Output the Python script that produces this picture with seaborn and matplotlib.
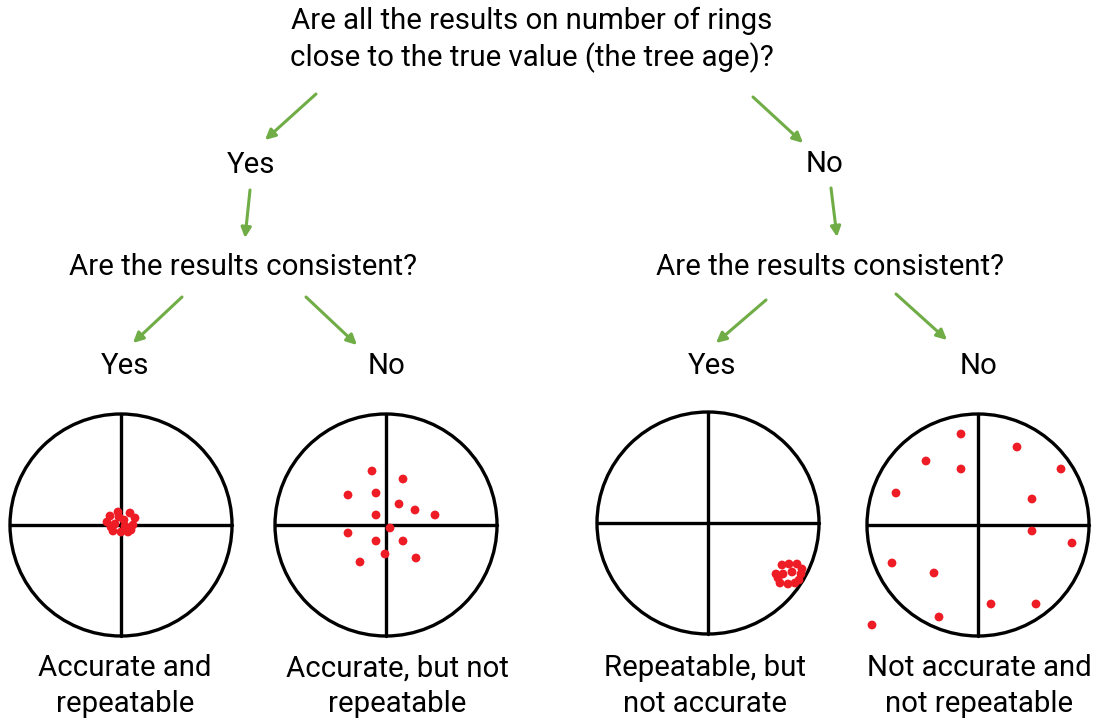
"""
Decision tree: accuracy vs. repeatability of tree-ring counts,
drawn as four targets with red hits.
"""

import matplotlib.pyplot as plt
import matplotlib.patches as mpatches
import pandas as pd
import seaborn as sns

#####################################
## Data
#####################################

question_top = "Are all the results on number of rings\nclose to the true value (the tree age)?"
question_consistent = "Are the results consistent?"
answers = ["Yes", "No"]
target_labels = [
    "Accurate and\nrepeatable",
    "Accurate, but not\nrepeatable",
    "Repeatable, but\nnot accurate",
    "Not accurate and\nnot repeatable",
]

# hit offsets from each target centre (pixels, y grows downwards)
hits_x_1 = [-11, -3, 9, 14, -14, -6, 4, 12, -8, 0, 7, -2, 10, -10, 3]
hits_y_1 = [-9, -13, -12, -7, -3, -1, 1, 0, 6, 7, 7, -8, 5, 2, -5]

hits_x_2 = [-14, 17, -38, -10, 13, 29, 49, -10, 4, -38, -10, 17, -1, 30, -26]
hits_y_2 = [-54, -46, -30, -32, -21, -15, -10, -10, 3, 8, 16, 16, 29, 33, 37]

hits_x_3 = [74, 81, 89, 94, 68, 75, 84, 93, 72, 80, 87, 70, 91]
hits_y_3 = [42, 41, 41, 46, 51, 51, 49, 51, 60, 61, 60, 55, 57]

hits_x_4 = [-17, 39, -52, -17, 83, -82, 54, 54, 94, -86, -44, 13, 58, -39, -106]
hits_y_4 = [-91, -78, -64, -56, -56, -32, -26, 6, 18, 38, 48, 79, 79, 92, 100]

#####################################
## Layout
#####################################

W, H = 1099, 718
centres_x = [121, 386, 708, 978]
centres_y = [525, 525, 523, 525]
radius = 111
green = "#70ad47"
hit_red = "#ee1c25"

sns.set_theme(style="white")
plt.rcParams["font.family"] = ["Roboto", "DejaVu Sans"]

fig = plt.figure(figsize=(W / 100, H / 100), dpi=100)
ax = fig.add_axes([0, 0, 1, 1])
ax.set_xlim(0, W)
ax.set_ylim(H, 0)
ax.set_axis_off()

# question and answer texts
txt = dict(ha="center", va="center", fontsize=21.2, color="black")
ax.text(532, 40, question_top, linespacing=1.33, **txt)
ax.text(251, 165, answers[0], **txt)
ax.text(824, 164, answers[1], **txt)
ax.text(243, 267, question_consistent, **txt)
ax.text(830, 267, question_consistent, **txt)
for x, ans in zip(centres_x, answers * 2):
    ax.text(x + (4 if ans == "Yes" else 0), 366, ans, **txt)

# green arrows
arrows = [
    ((316, 94), (265, 140)),
    ((753, 97), (803, 143)),
    ((250, 190), (245, 238)),
    ((831, 188), (837, 237)),
    ((182, 297), (133, 343)),
    ((306, 297), (357, 345)),
    ((766, 300), (716, 343)),
    ((896, 294), (947, 340)),
]
for start, end in arrows:
    ax.annotate("", xy=end, xytext=start,
                arrowprops=dict(arrowstyle="-|>", color=green, lw=2.2,
                                mutation_scale=15, shrinkA=0, shrinkB=0))

# targets
for cx, cy in zip(centres_x, centres_y):
    ax.add_patch(mpatches.Circle((cx, cy), radius, fill=False, ec="black", lw=2.4))
    ax.plot([cx - radius, cx + radius], [cy, cy], color="black", lw=2.4)
    ax.plot([cx, cx], [cy - radius, cy + radius], color="black", lw=2.4)

# red hits
frames = []
for i, (hx, hy) in enumerate([(hits_x_1, hits_y_1), (hits_x_2, hits_y_2),
                              (hits_x_3, hits_y_3), (hits_x_4, hits_y_4)]):
    frames.append(pd.DataFrame({
        "x": [centres_x[i] + v for v in hx],
        "y": [centres_y[i] + v for v in hy],
    }))
hits_df = pd.concat(frames, ignore_index=True)
sns.scatterplot(data=hits_df, x="x", y="y", ax=ax, color=hit_red,
                s=40, edgecolor="none", legend=False, zorder=5)
ax.set_xlabel("")
ax.set_ylabel("")

# captions under targets
for x, label in zip([125, 397, 705, 979], target_labels):
    ax.text(x, 686, label, linespacing=1.33, **txt)

fig.savefig("out.png", dpi=100)
